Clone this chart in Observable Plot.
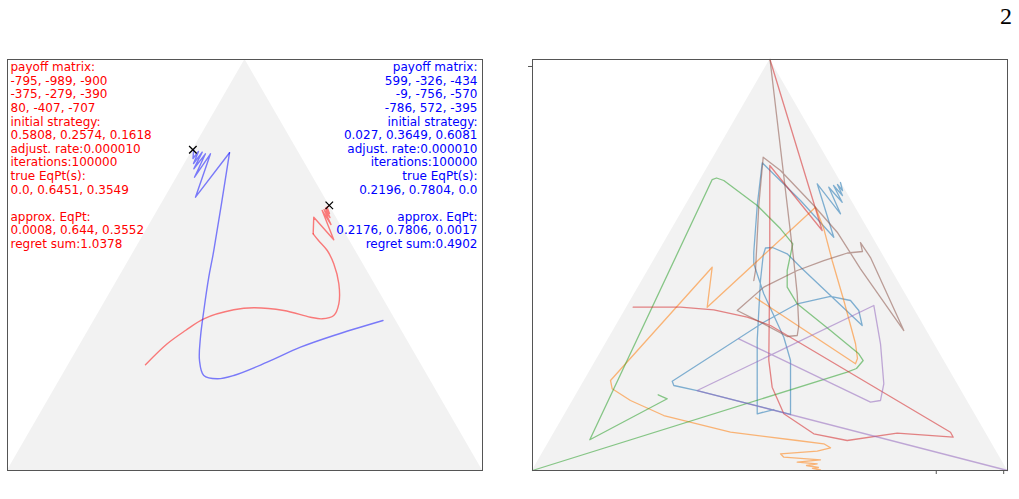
<!DOCTYPE html>
<html><head><meta charset="utf-8">
<script src="https://cdn.jsdelivr.net/npm/d3@7"></script>
<script src="https://cdn.jsdelivr.net/npm/@observablehq/plot@0.6"></script>
<style>
html,body{margin:0;padding:0;background:#fff;}
#wrap{position:relative;width:1019px;height:499px;overflow:hidden;background:#fff;}
#wrap svg{position:absolute;top:0;}
#page{position:absolute;left:1000px;top:1px;font-family:"Liberation Serif","DejaVu Serif",serif;font-size:24px;line-height:30px;color:#000;}
</style></head><body>
<div id="wrap"><div id="page">2</div></div>
<script>
// Ternary points stored as [b, c] = shares of strategy 2 and 3 (strategy 1 = 1 - b - c)
const triangle = [[0, 0], [1, 0], [0, 1]];

const leftRedText = ["payoff matrix:", "-795, -989, -900", "-375, -279, -390", "80, -407, -707",
  "initial strategy:", "0.5808, 0.2574, 0.1618", "adjust. rate:0.000010", "iterations:100000",
  "true EqPt(s):", "0.0, 0.6451, 0.3549", "", "approx. EqPt:", "0.0008, 0.644, 0.3552", "regret sum:1.0378"];
const leftBlueText = ["payoff matrix:", "599, -326, -434", "-9, -756, -570", "-786, 572, -395",
  "initial strategy:", "0.027, 0.3649, 0.6081", "adjust. rate:0.000010", "iterations:100000",
  "true EqPt(s):", "0.2196, 0.7804, 0.0", "", "approx. EqPt:", "0.2176, 0.7806, 0.0017", "regret sum:0.4902"];

const trueEq = [[0.6451, 0.3549], [0.7804, 0.0]];

const leftRed = [[0.2574,0.1618],[0.3083,0.1821],[0.3406,0.2044],[0.3691,0.2287],[0.3910,0.2809],
  [0.3959,0.3206],[0.3893,0.3871],[0.3730,0.4514],[0.3691,0.4779],[0.3771,0.4983],[0.4056,0.4947],
  [0.4543,0.4704],[0.5029,0.4354],[0.5353,0.4055],[0.5596,0.3749],[0.5759,0.3556],[0.6163,0.3366],
  [0.5613,0.4062],[0.6326,0.3462],[0.5985,0.3818],[0.6350,0.3488],[0.6156,0.3711],[0.6387,0.3502],
  [0.6253,0.3652],[0.6411,0.3520],[0.644,0.3552]];
const leftBlue = [[0.3649,0.6081],[0.3285,0.5227],[0.3000,0.4668],[0.2635,0.4149],[0.2311,0.3608],
  [0.2231,0.3299],[0.2311,0.2977],[0.2676,0.2704],[0.3243,0.2441],[0.3893,0.2187],[0.4703,0.1886],
  [0.5353,0.1667],[0.7730,0.0809],[0.6650,0.0633],[0.7705,0.0421],[0.7136,0.0369],[0.7705,0.0315],
  [0.7341,0.0252],[0.7745,0.0227],[0.7470,0.0181],[0.7762,0.0140],[0.7591,0.0109],[0.7806,0.0017]];
// index where the smooth part of each left trajectory turns into a zig-zag
const leftRedBreak = 15;
const leftBlueBreak = 12;

const runBlue = [[0.1484,0.4338],[0.1380,0.4041],[0.3163,0.3149],[0.4623,0.2488],[0.5231,0.2241],
  [0.5414,0.2198],[0.5426,0.2340],[0.5273,0.2725],[0.4908,0.3224],[0.3528,0.5177],[0.3893,0.4923],
  [0.4136,0.4627],[0.4234,0.4157],[0.4056,0.3545],[0.3608,0.3065],[0.2173,0.1855],[0.2068,0.1941],
  [0.1946,0.2494],[0.1363,0.4751],[0.1540,0.4662],[0.2676,0.4094],[0.3243,0.3669],[0.4299,0.2719],
  [0.5029,0.2144],[0.5311,0.2003],[0.6448,0.1507],[0.7487,0.1093],[0.6569,0.2357],[0.5676,0.3505],
  [0.6976,0.2506],[0.6246,0.3361],[0.6893,0.2791],[0.6528,0.3256],[0.6934,0.2870],[0.6691,0.3180],
  [0.6959,0.2941],[0.6813,0.3120],[0.7007,0.2980]];
const runOrange = [[0.4202,0.2594],[0.2596,0.5502],[0.2725,0.5479],[0.3083,0.5259],[0.4136,0.4486],
  [0.5109,0.3754],[0.5881,0.3193],[0.6406,0.2755],[0.3973,0.1691],[0.4946,0.1310],[0.2190,0.0547],
  [0.1988,0.0684],[0.1703,0.1211],[0.1338,0.2095],[0.0932,0.3702],[0.0730,0.5208],[0.0650,0.5808],
  [0.0552,0.5998],[0.0470,0.5759],[0.0406,0.5018],[0.0324,0.5129],[0.0260,0.5933],[0.0202,0.5472],
  [0.0163,0.5912],[0.0122,0.5707],[0.0073,0.5984],[0.0049,0.5870],[0.0012,0.6057]];
const runGreen = [[0.1842,0.1725],[0.1745,0.1964],[0.0747,0.0833],[0.7080,0.0243],[0.7117,0.0316],
  [0.7056,0.0499],[0.6448,0.1507],[0.5881,0.2281],[0.5516,0.2722],[0.4866,0.2929],[0.4460,0.3132],
  [0.4056,0.3545],[0.3406,0.4571],[0.2839,0.5449],[0.2676,0.5624],[0.2482,0.5580],[0.2392,0.5429],
  [0.0, 0.0]];
const runRed = [[0.3973,0.0133],[0.3973,0.1129],[0.3910,0.1862],[0.3730,0.2655],[0.3528,0.3247],
  [0.0932,0.8334],[0.0810,0.8452],[0.0908,0.7224],[0.0730,0.6260],[0.0893,0.5475],[0.1380,0.4601],
  [0.2027,0.4032],[0.2676,0.3637],[0.5109,0.2441],[0.7421,0.1285],[0.5839,0.3179],[1.0,0.0]];
const runPurple = [[0.3204,0.2741],[0.1662,0.6285],[0.1703,0.6474],[0.2110,0.6341],[0.3083,0.5785],
  [0.4015,0.5178],[0.1946,0.2494],[0.0,1.0]];
const runBrown = [[1.0,0.0],[0.5109,0.2946],[0.4299,0.3423],[0.3528,0.3842],[0.3285,0.3931],
  [0.3260,0.3732],[0.3569,0.3084],[0.3893,0.2363],[0.4460,0.2639],[0.4866,0.3140],[0.5109,0.3578],
  [0.5292,0.3986],[0.5328,0.4283],[0.5547,0.4131],[0.5182,0.4525],[0.3406,0.6114],[0.4908,0.4451],
  [0.5798,0.3516],[0.6448,0.2698],[0.7299,0.1571],[0.7623,0.1045],[0.6448,0.1540],[0.4866,0.2262],
  [0.4623,0.2347]];
const runs = [runBlue, runOrange, runGreen, runRed, runPurple, runBrown];
const runColors = ["#1f77b4", "#ff7f0e", "#2ca02c", "#d62728", "#9467bd", "#8c564b"];

const bottomTicks = [0.85, 0.992];
const sideTicks = [0.983];

const X = d => d[0] / 2 + d[1];
const Y = d => d[0];
const wrap = document.getElementById("wrap");

function panel(marks, left, width, mr) {
  const svg = Plot.plot({
    width, height: 499,
    marginLeft: 7, marginRight: mr, marginTop: 59, marginBottom: 29,
    x: {domain: [0, 1], axis: null},
    y: {domain: [0, 1], axis: null},
    style: {background: "transparent", overflow: "visible", fontFamily: "DejaVu Sans"},
    marks: [
      Plot.areaY(triangle, {x: X, y: Y, fill: "#f2f2f2"}),
      ...marks,
      Plot.frame({stroke: "#555", strokeWidth: 1})
    ]
  });
  svg.style.left = left + "px";
  wrap.appendChild(svg);
}

const textOpts = {fontSize: 12, lineHeight: 1.133, lineAnchor: "top", fontFamily: "DejaVu Sans", dy: 2};
const smooth = {x: X, y: Y, curve: "catmull-rom"};
const sharp = {x: X, y: Y, curve: "linear"};

panel([
  Plot.line(leftRed.slice(0, leftRedBreak + 1), {...smooth, stroke: "#ff0000", strokeOpacity: 0.5, strokeWidth: 1.4}),
  Plot.line(leftRed.slice(leftRedBreak), {...sharp, stroke: "#ff0000", strokeOpacity: 0.5, strokeWidth: 1.4}),
  Plot.line(leftBlue.slice(0, leftBlueBreak + 1), {...smooth, stroke: "#0000ff", strokeOpacity: 0.5, strokeWidth: 1.4}),
  Plot.line(leftBlue.slice(leftBlueBreak), {...sharp, stroke: "#0000ff", strokeOpacity: 0.5, strokeWidth: 1.4}),
  Plot.dot(trueEq, {x: X, y: Y, symbol: "times", r: 3.5, stroke: "#000", strokeWidth: 1.3}),
  Plot.text([leftRedText.join("\n")], {...textOpts, frameAnchor: "top-left", textAnchor: "start", dx: 3, fill: "#ff0000"}),
  Plot.text([leftBlueText.join("\n")], {...textOpts, frameAnchor: "top-right", textAnchor: "end", dx: -5, fill: "#0000ff"})
], 0, 500, 18);

panel([
  ...runs.map((r, i) => Plot.line(r, {...sharp, stroke: runColors[i], strokeOpacity: 0.55, strokeWidth: 1.3})),
  Plot.axisX({ticks: bottomTicks, tickSize: 4, tickFormat: () => "", label: null, stroke: "#555"}),
  Plot.axisY({ticks: sideTicks, tickSize: 4, tickFormat: () => "", label: null, stroke: "#555"})
], 525, 494, 12);
</script>
</body></html>
